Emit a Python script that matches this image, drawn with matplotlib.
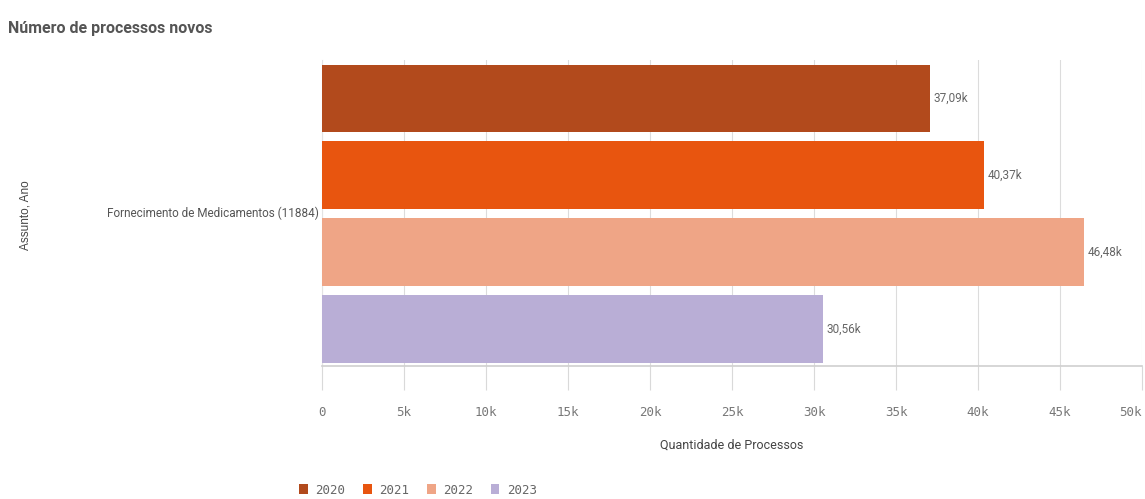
import matplotlib
matplotlib.use("Agg")
import matplotlib.pyplot as plt
from matplotlib.patches import Patch
from matplotlib.ticker import FuncFormatter

anos = ["2020", "2021", "2022", "2023"]
processos = [37090, 40370, 46480, 30560]
rotulos = ["37,09k", "40,37k", "46,48k", "30,56k"]
cores = ["#B24A1C", "#E8550F", "#EFA586", "#B9AED6"]
assunto = "Fornecimento de Medicamentos (11884)"
x_ticks = [0, 5000, 10000, 15000, 20000, 25000, 30000, 35000, 40000, 45000, 50000]

mono = "DejaVu Sans Mono"
sans = "Roboto"
cinza = "#666666"

fig = plt.figure(figsize=(11.45, 4.99), dpi=100)
ax = fig.add_axes([322 / 1145, 1 - 366 / 499, 820 / 1145, 306 / 499])

pos = list(range(len(anos)))
ax.barh(pos, processos, height=0.88, color=cores, zorder=3)
for p, v, r in zip(pos, processos, rotulos):
    ax.text(v + 200, p, r, va="center", ha="left", fontsize=8.5,
            family=sans, color=cinza, zorder=4)

ax.set_xlim(0, 50000)
ax.set_ylim(3.48, -0.5)
ax.set_xticks(x_ticks)
ax.xaxis.set_major_formatter(FuncFormatter(
    lambda v, _: "0" if v == 0 else f"{int(v / 1000)}k"))
ax.tick_params(axis="x", length=17, width=0.8, color="#d9d9d9",
               labelsize=9, labelcolor="#777777", pad=12)
for lbl in ax.get_xticklabels():
    lbl.set_family(mono)
ax.get_xticklabels()[-1].set_horizontalalignment("right")
ax.grid(axis="x", color="#dcdcdc", linewidth=0.8, zorder=0)

ax.set_yticks([1.48])
ax.set_yticklabels([assunto], fontsize=8.5, color="#555555", family=sans)
ax.tick_params(axis="y", length=0, pad=2)

for s in ["top", "right"]:
    ax.spines[s].set_visible(False)
ax.spines["left"].set_color("#e3e3e3")
ax.spines["bottom"].set_color("#cfcfcf")
ax.spines["bottom"].set_linewidth(1.2)

ax.set_xlabel("Quantidade de Processos", fontsize=9, color="#444444",
              family=sans, labelpad=14)

fig.text(25 / 1145, 1 - 215 / 499, "Assunto, Ano", rotation=90,
         va="center", ha="center", fontsize=8.5, color="#444444",
         family="Liberation Sans")
fig.text(8 / 1145, 1 - 28 / 499, "Número de processos novos", va="center",
         ha="left", fontsize=11.5, color="#555555", family=sans,
         fontweight="bold")

handles = [Patch(facecolor=c, edgecolor="none") for c in cores]
leg = fig.legend(handles, anos, loc="center left",
                 bbox_to_anchor=(288 / 1145, 1 - 490 / 499), ncol=4,
                 frameon=False, handlelength=0.7, handleheight=0.9,
                 handletextpad=0.6, columnspacing=1.4,
                 prop={"family": mono, "size": 9})
for t in leg.get_texts():
    t.set_color(cinza)

fig.savefig("out.png", dpi=100)
